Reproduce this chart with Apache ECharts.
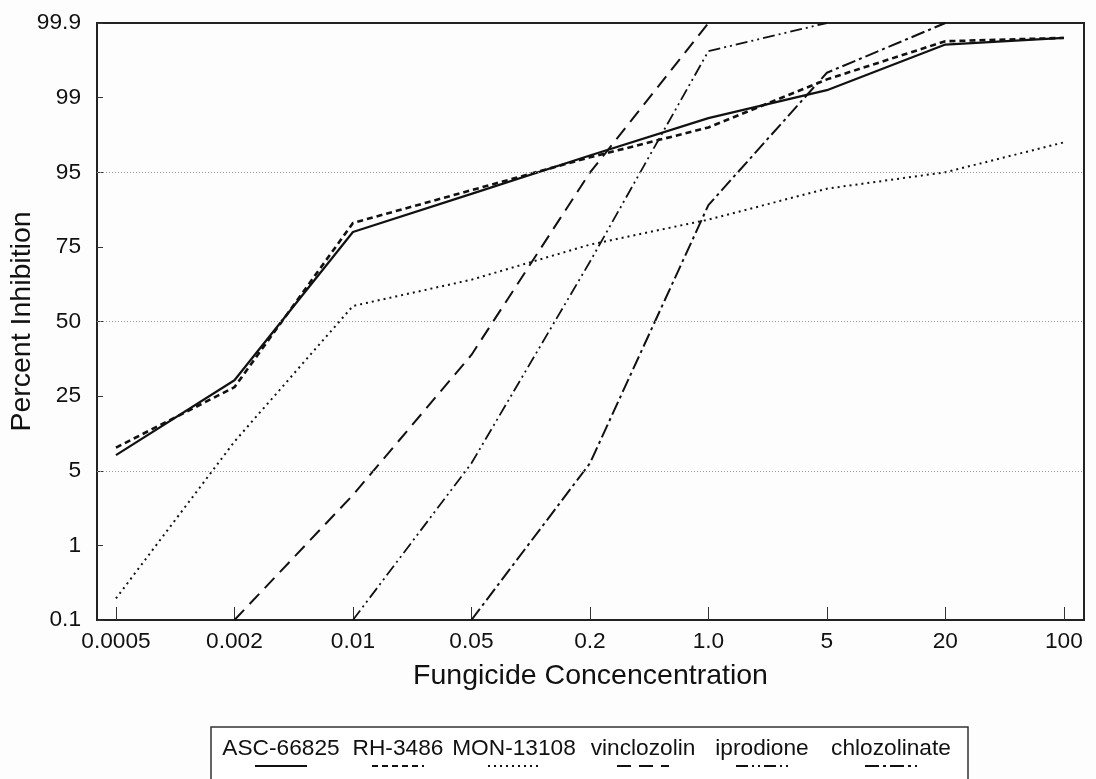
<!DOCTYPE html>
<html>
<head>
<meta charset="utf-8">
<script src="https://cdn.jsdelivr.net/npm/echarts@6/dist/echarts.min.js"></script>
<style>
  html, body { margin: 0; padding: 0; background: #fdfdfd; }
  #chart { width: 1096px; height: 779px; }
</style>
</head>
<body>
<div id="chart"></div>
<script>
// Fungicide concentrations (evenly spaced categories on the x axis)
const concLabels = ['0.0005', '0.002', '0.01', '0.05', '0.2', '1.0', '5', '20', '100'];
// Percent inhibition ticks (evenly spaced on the y axis)
const pctTicks = [0.1, 1, 5, 25, 50, 75, 95, 99, 99.9];
const pctTickLabels = ['0.1', '1', '5', '25', '50', '75', '95', '99', '99.9'];

const seriesNames = ['ASC-66825', 'RH-3486', 'MON-13108', 'vinclozolin', 'iprodione', 'chlozolinate'];

// Percent inhibition per concentration (null = not plotted)
const ascValues   = [9.2, 30.3, 79.0, 89.2, 95.9, 97.9, 99.09, 99.64, 99.72];
const rhValues    = [11.2, 28.0, 81.4, 90.2, 95.8, 97.4, 99.22, 99.68, 99.72];
const monValues   = [0.36, 12.8, 55.2, 64.0, 75.6, 82.3, 90.6, 95.0, 96.6];
const vincValues  = [null, 0.1, 3.7, 38.8, 94.9, 99.9, null, null, null];
const iproValues  = [null, null, 0.1, 7.0, 70.0, 99.56, 99.9, null, null];
const chloValues  = [null, null, null, 0.1, 7.0, 86.2, 99.3, 99.9, null];

// Line styles for each fungicide
const lineStyles = [
  { width: 2.2, type: 'solid' },
  { width: 2.6, type: [6, 4] },
  { width: 2.0, type: [2, 4] },
  { width: 2.0, type: [14, 8] },
  { width: 1.8, type: [12, 4, 2, 4, 2, 4] },
  { width: 2.0, type: [14, 4, 3, 4] }
];

const FONT = "'Liberation Sans', Arial, Helvetica, sans-serif";
const INK = '#111';

// Piecewise-linear position between the percent ticks
function toScale(p) {
  for (let k = 0; k < pctTicks.length - 1; k++) {
    if (p <= pctTicks[k + 1]) {
      return k + (p - pctTicks[k]) / (pctTicks[k + 1] - pctTicks[k]);
    }
  }
  return pctTicks.length - 1;
}

function toPoints(values) {
  const pts = [];
  values.forEach((v, i) => { if (v !== null) pts.push([i, toScale(v)]); });
  return pts;
}

const allValues = [ascValues, rhValues, monValues, vincValues, iproValues, chloValues];
const tickIdx = concLabels.map((_, i) => i);

const series = allValues.map((vals, s) => ({
  name: seriesNames[s],
  type: 'line',
  data: toPoints(vals),
  symbol: 'none',
  z: 3,
  lineStyle: { color: INK, width: lineStyles[s].width, type: lineStyles[s].type, cap: 'butt' },
  animation: false
}));

// Dotted reference lines at 5, 50 and 95 percent
series.unshift({
  type: 'line',
  data: [],
  z: 1,
  silent: true,
  markLine: {
    silent: true,
    symbol: 'none',
    label: { show: false },
    lineStyle: { color: '#9a9a9a', width: 1, type: [1, 2] },
    data: [{ yAxis: toScale(5) }, { yAxis: toScale(50) }, { yAxis: toScale(95) }],
    animation: false
  }
});

// Legend box with text above each line sample
const legendCenters = [281, 398, 514, 643, 762, 891];
const legendSampleHalf = 26;
const legendGraphics = [{
  type: 'rect',
  shape: { x: 211, y: 727, width: 757, height: 70 },
  style: { fill: '#fff', stroke: '#333', lineWidth: 1.5 },
  z: 10
}];
seriesNames.forEach((name, i) => {
  legendGraphics.push({
    type: 'text',
    x: legendCenters[i], y: 749,
    style: { text: name, font: '22.7px ' + FONT, fill: INK, textAlign: 'center', textVerticalAlign: 'middle' },
    z: 11
  });
  legendGraphics.push({
    type: 'line',
    shape: { x1: legendCenters[i] - legendSampleHalf, y1: 766, x2: legendCenters[i] + legendSampleHalf, y2: 766 },
    style: { stroke: INK, lineWidth: Math.min(lineStyles[i].width, 2), lineDash: lineStyles[i].type === 'solid' ? null : lineStyles[i].type },
    z: 11
  });
});

const chart = echarts.init(document.getElementById('chart'), null, { renderer: 'canvas' });
chart.setOption({
  backgroundColor: '#fdfdfd',
  animation: false,
  grid: {
    left: 97, right: 12, top: 23, bottom: 159,
    outerBoundsMode: 'none',
    containLabel: false,
    show: true, borderColor: '#222', borderWidth: 2, backgroundColor: 'transparent'
  },
  xAxis: {
    type: 'value',
    min: -0.16, max: 8.17,
    name: 'Fungicide Concencentration',
    nameLocation: 'middle',
    nameGap: 42,
    nameMoveOverlap: false,
    nameTextStyle: { fontFamily: FONT, fontSize: 28.5, color: INK },
    axisLine: { show: true, onZero: false, lineStyle: { color: '#222', width: 2 } },
    axisTick: { show: true, inside: true, length: 13, customValues: tickIdx, lineStyle: { color: '#333', width: 1 } },
    axisLabel: {
      customValues: tickIdx,
      formatter: v => concLabels[Math.round(v)],
      fontFamily: FONT, fontSize: 22.7, color: INK, margin: 10
    },
    splitLine: { show: false }
  },
  yAxis: {
    type: 'value',
    min: 0, max: 8, interval: 1,
    name: 'Percent Inhibition',
    nameLocation: 'middle',
    nameGap: 60,
    nameMoveOverlap: false,
    nameTextStyle: { fontFamily: FONT, fontSize: 28.5, color: INK },
    axisLine: { show: true, onZero: false, lineStyle: { color: '#222', width: 2 } },
    axisTick: { show: true, inside: true, length: 6, lineStyle: { color: '#333', width: 1 } },
    axisLabel: {
      formatter: v => pctTickLabels[Math.round(v)],
      fontFamily: FONT, fontSize: 22.7, color: INK, margin: 16
    },
    splitLine: { show: false }
  },
  series: series,
  graphic: legendGraphics
});
</script>
</body>
</html>
